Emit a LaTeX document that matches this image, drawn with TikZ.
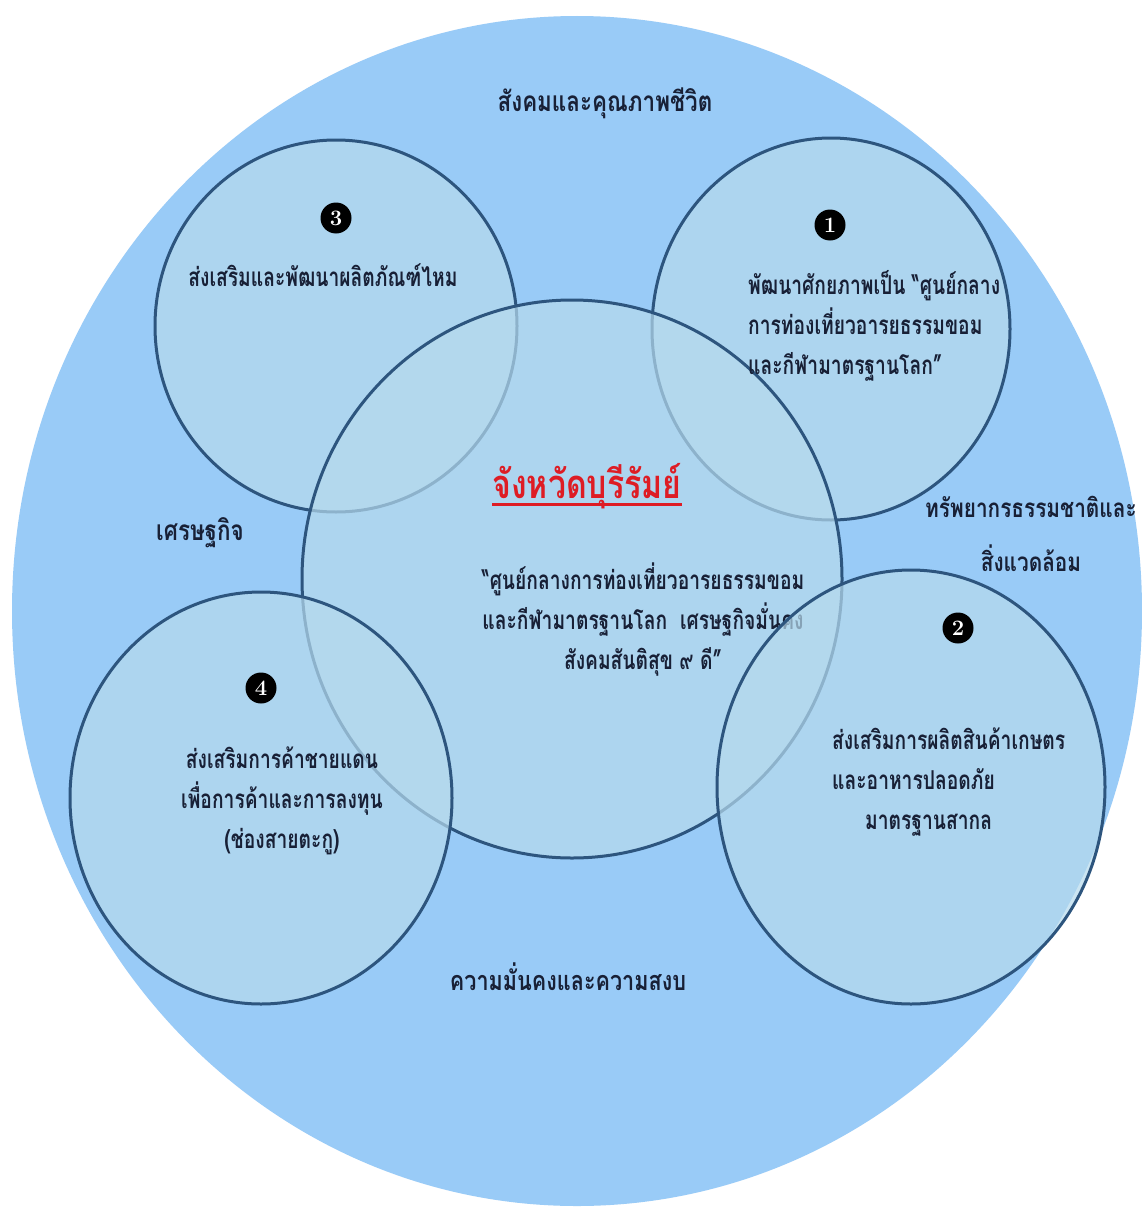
\documentclass[tikz,border=0pt]{standalone}
\usepackage{fontspec}
\newfontfamily\thai[Script=Thai,FakeStretch=0.74]{Loma}
\newfontfamily\thaiwide[Script=Thai,FakeStretch=0.8]{Loma}
\usetikzlibrary{shapes.geometric}
\definecolor{bigfill}{RGB}{153,203,247}
\definecolor{cfill}{RGB}{182,218,237}
\definecolor{edge}{RGB}{45,85,126}
\definecolor{ink}{RGB}{24,32,54}
\definecolor{redtxt}{RGB}{222,28,36}
\begin{document}
\begin{tikzpicture}[x=1pt,y=-1pt,
  ring/.style={ellipse, draw=edge, line width=3pt, fill=cfill, fill opacity=0.7, inner sep=0},
  lbl/.style={font=\thai\bfseries\fontsize{26}{40}\selectfont, text=ink, inner sep=0},
  outerlbl/.style={font=\thaiwide\bfseries\fontsize{28}{40}\selectfont, text=ink, inner sep=0},
  titlelbl/.style={font=\thaiwide\bfseries\fontsize{40}{48}\selectfont, text=redtxt, inner sep=0},
  num/.style={circle, fill=black, text=white, font=\bfseries\fontsize{22}{22}\selectfont, minimum size=31pt, inner sep=0}]
\useasboundingbox (0,0) rectangle (1142,1207);
\fill[white] (0,0) rectangle (1142,1207);
% outer circle
\node[ellipse, fill=bigfill, minimum width=1130pt, minimum height=1190pt, inner sep=0] (outer) at (577,611) {};
% circles under the centre
\node[ring, minimum width=358pt, minimum height=382pt] (c1) at (831,329) {};
\node[ring, minimum width=362pt, minimum height=372pt] (c3) at (336,326) {};
% centre circle
\node[ring, minimum width=540pt, minimum height=558pt] (cc) at (572,579) {};
% centre texts
\node[titlelbl] (title) at (587,486) {จังหวัดบุรีรัมย์};
\draw[redtxt, line width=2.5pt] ([yshift=-6pt]title.base west) -- ([yshift=-6pt]title.base east);
\node[lbl, align=center] (motto) at (643,620) {“ศูนย์กลางการท่องเที่ยวอารยธรรมขอม\\และกีฬามาตรฐานโลก\ \ เศรษฐกิจมั่นคง\\สังคมสันติสุข ๙ ดี”};
% circles over the centre
\node[ring, minimum width=388pt, minimum height=434pt] (c2) at (911,787) {};
\node[ring, minimum width=382pt, minimum height=412pt] (c4) at (261,798) {};
% numbers
\node[num] (n1) at (830,225) {1};
\node[num] (n2) at (958,628) {2};
\node[num] (n3) at (336,218) {3};
\node[num] (n4) at (261,688) {4};
% circle texts
\node[lbl, align=left, anchor=west] (t1) at (748,326) {พัฒนาศักยภาพเป็น “ศูนย์กลาง\\การท่องเที่ยวอารยธรรมขอม\\และกีฬามาตรฐานโลก”};
\node[lbl, align=left, anchor=west] (t2) at (832,782) {ส่งเสริมการผลิตสินค้าเกษตร\\และอาหารปลอดภัย\\\hspace*{33pt}มาตรฐานสากล};
\node[lbl] (t3) at (323,275) {ส่งเสริมและพัฒนาผลิตภัณฑ์ไหม};
\node[lbl, align=center] (t4) at (282,801) {ส่งเสริมการค้าชายแดน\\เพื่อการค้าและการลงทุน\\(ช่องสายตะกู)};
% outer labels
\node[outerlbl] (soc) at (605,103) {สังคมและคุณภาพชีวิต};
\node[outerlbl, font=\thaiwide\bfseries\fontsize{26}{40}\selectfont, align=center] (env) at (1031,534) {ทรัพยากรธรรมชาติและ\\[14pt]สิ่งแวดล้อม};
\node[outerlbl] (eco) at (200,533) {เศรษฐกิจ};
\node[outerlbl, font=\thaiwide\bfseries\fontsize{27}{40}\selectfont] (sec) at (568,977) {ความมั่นคงและความสงบ};
\end{tikzpicture}
\end{document}
